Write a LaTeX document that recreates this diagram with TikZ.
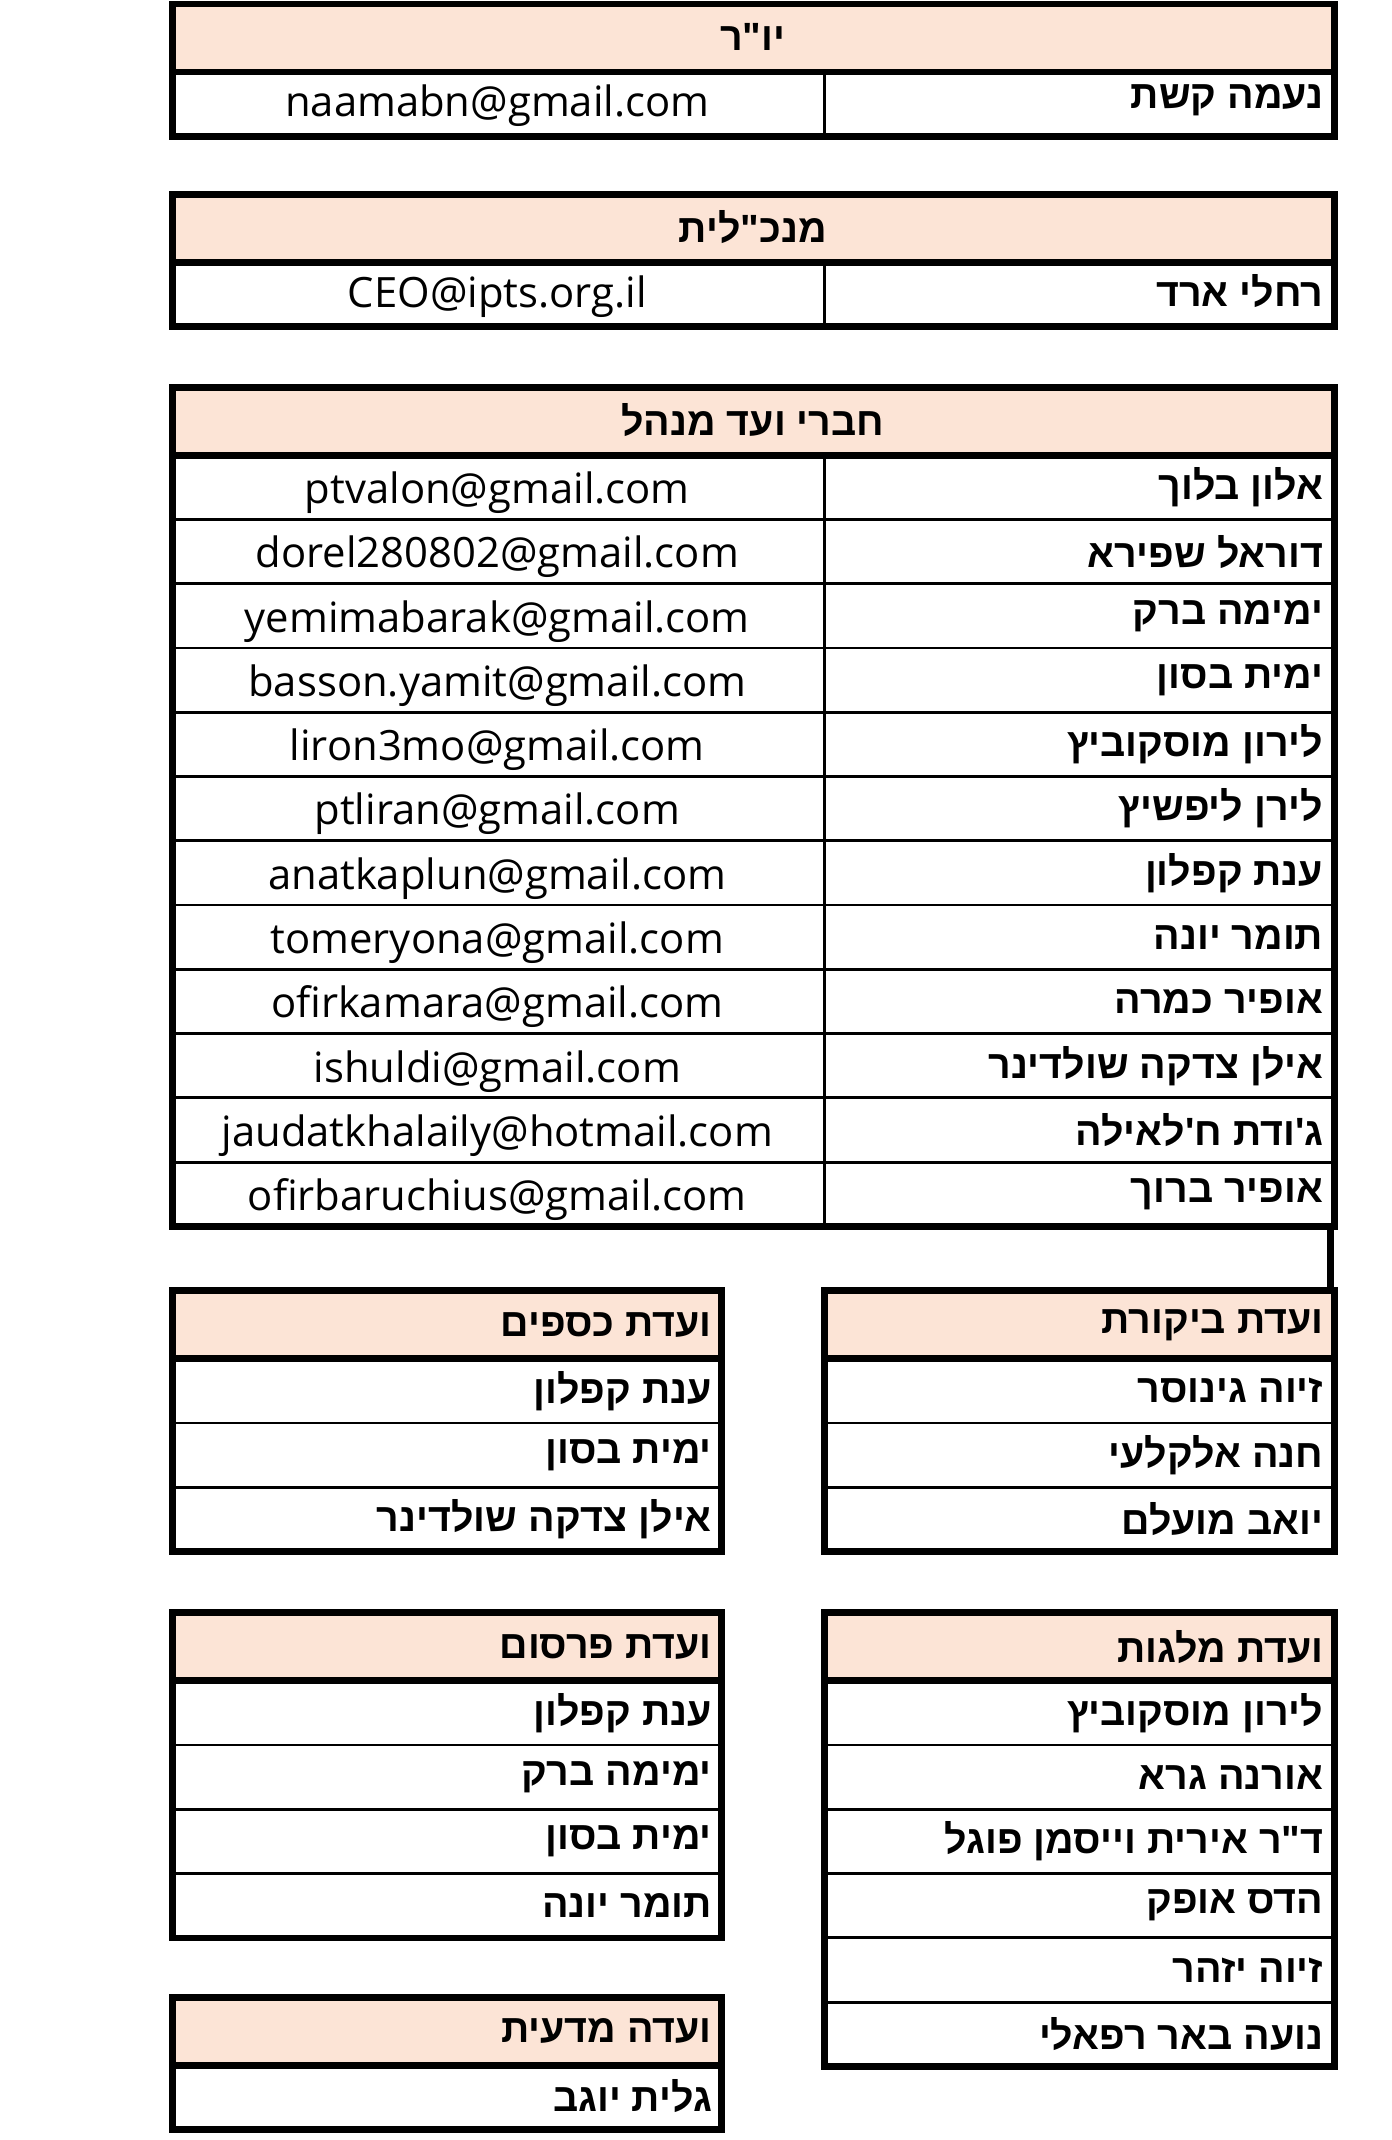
\documentclass[tikz,border=0pt]{standalone}
\usepackage{fontspec}
\setmainfont{Open Sans}
\newfontfamily\hebfont[Script=Hebrew]{Liberation Sans}
\TeXXeTstate=1
\definecolor{headpeach}{HTML}{FCE4D6}
\tikzset{
  frame/.style={line width=2.8pt},
  rowline/.style={line width=1.2pt},
  heb/.style={font=\hebfont\bfseries\fontsize{16.5}{20}\selectfont, inner sep=1pt},
  mail/.style={font=\fontsize{17.5}{20}\selectfont, inner sep=1pt},
}
% frame of one table: left, right, top, rows
\newcommand\boxtable[4]{%
  \pgfmathsetmacro\ybot{#3+50+#4*47.3}
  \fill[headpeach] (#1,#3) rectangle (#2,#3+50);
  \foreach \k in {1,...,#4} \draw[rowline] (#1,{#3+50+\k*47.3}) -- (#2,{#3+50+\k*47.3});
  \draw[frame] (#1,#3+50) -- (#2,#3+50);
  \draw[frame] (#1,#3) rectangle (#2,\ybot);
}
\begin{document}
\begin{tikzpicture}[x=0.02cm,y=-0.02cm]
\useasboundingbox (0,0) rectangle (1024,1575);

% chair
\boxtable{127}{982}{3}{1}
\draw[rowline] (607,53) -- (607,100.3);
\node[heb] (chair) at (554,27) {\beginR יו"ר\endR};
\node[heb,anchor=east] (chairname) at (976,74) {\beginR נעמה קשת\endR};
\node[mail] (chairmail) at (366,78) {naamabn@gmail.com};

% ceo
\boxtable{127}{982}{143}{1}
\draw[rowline] (607,193) -- (607,240.3);
\node[heb] (ceo) at (554,167) {\beginR מנכ"לית\endR};
\node[heb,anchor=east] (ceoname) at (976,214) {\beginR רחלי ארד\endR};
\node[mail] (ceomail) at (366,218) {CEO@ipts.org.il};

% board
\boxtable{127}{982}{285}{12}
\draw[rowline] (607,335) -- (607,902.6);
\draw[frame] (979,902.6) -- (979,952);
\node[heb] (board) at (554,309) {\beginR חברי ועד מנהל\endR};
\foreach \nm/\ml [count=\i] in {
  אלון בלוך/ptvalon@gmail.com,
  דוראל שפירא/dorel280802@gmail.com,
  ימימה ברק/yemimabarak@gmail.com,
  ימית בסון/basson.yamit@gmail.com,
  לירון מוסקוביץ/liron3mo@gmail.com,
  לירן ליפשיץ/ptliran@gmail.com,
  ענת קפלון/anatkaplun@gmail.com,
  תומר יונה/tomeryona@gmail.com,
  אופיר כמרה/ofirkamara@gmail.com,
  אילן צדקה שולדינר/ishuldi@gmail.com,
  ג'ודת ח'לאילה/jaudatkhalaily@hotmail.com,
  אופיר ברוך/ofirbaruchius@gmail.com}{
  \node[heb,anchor=east] (bname\i) at (976,{335+(\i-0.5)*47.3}) {\beginR\nm\endR};
  \node[mail] (bmail\i) at (366,{339+(\i-0.5)*47.3}) {\ml};
}

% audit
\boxtable{607}{982}{950}{3}
\node[heb,anchor=east] (audit) at (976,975) {\beginR ועדת ביקורת\endR};
\foreach \nm [count=\i] in {זיוה גינוסר, חנה אלקלעי, יואב מועלם}
  \node[heb,anchor=east] (audit\i) at (976,{1000+(\i-0.5)*47.3}) {\beginR\nm\endR};

% finance
\boxtable{127}{531}{950}{3}
\node[heb,anchor=east] (fin) at (526,975) {\beginR ועדת כספים\endR};
\foreach \nm [count=\i] in {ענת קפלון, ימית בסון, אילן צדקה שולדינר}
  \node[heb,anchor=east] (fin\i) at (526,{1000+(\i-0.5)*47.3}) {\beginR\nm\endR};

% appeals
\boxtable{607}{982}{1187}{6}
\node[heb,anchor=east] (appeal) at (976,1212) {\beginR ועדת מלגות\endR};
\foreach \nm [count=\i] in {לירון מוסקוביץ, אורנה גרא, ד"ר אירית וייסמן פוגל, הדס אופק, זיוה יזהר, נועה באר רפאלי}
  \node[heb,anchor=east] (appeal\i) at (976,{1237+(\i-0.5)*47.3}) {\beginR\nm\endR};

% publicity
\boxtable{127}{531}{1187}{4}
\node[heb,anchor=east] (pub) at (526,1212) {\beginR ועדת פרסום\endR};
\foreach \nm [count=\i] in {ענת קפלון, ימימה ברק, ימית בסון, תומר יונה}
  \node[heb,anchor=east] (pub\i) at (526,{1237+(\i-0.5)*47.3}) {\beginR\nm\endR};

% science
\boxtable{127}{531}{1470}{1}
\node[heb,anchor=east] (sci) at (526,1495) {\beginR ועדה מדעית\endR};
\node[heb,anchor=east] (sci1) at (526,1543) {\beginR גלית יוגב\endR};

\end{tikzpicture}
\end{document}
